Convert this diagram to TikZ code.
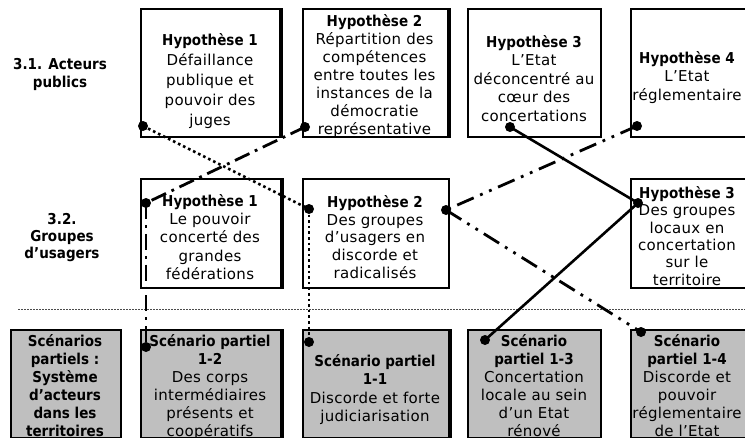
\documentclass[tikz,border=0pt]{standalone}
\usepackage{fontspec}
\setmainfont{DejaVu Sans}[LetterSpace=2, BoldFeatures={FakeStretch=0.9, LetterSpace=0}]
\begin{document}
\begin{tikzpicture}[x=1pt,y=-1pt,
  box/.style={draw, line width=2pt, anchor=north west, inner sep=0pt},
  hyp/.style={box, fill=white},
  scen/.style={box, fill=black!25},
  txt/.style={align=center, anchor=north, inner sep=0pt, font=\fontsize{15}{18.5}\selectfont},
  lbl/.style={align=center, anchor=north, inner sep=0pt, font=\bfseries\fontsize{15}{18}\selectfont},
  dot/.style={circle, fill=black, inner sep=0pt, minimum size=10pt},
  thickedge/.style={line width=3.5pt},
  dottedconn/.style={line width=2.6pt, dash pattern=on 2.6pt off 3pt},
  dashdotconn/.style={line width=2.8pt, dash pattern=on 16pt off 6pt on 2.8pt off 6pt},
  dashdotdotconn/.style={line width=2.8pt, dash pattern=on 18pt off 7pt on 2.8pt off 7pt on 2.8pt off 7pt},
  solidconn/.style={line width=2.6pt},
  sep/.style={line width=0.8pt, black!70, dash pattern=on 1.5pt off 1.5pt}]
\useasboundingbox (0,0) rectangle (745,437);
\clip (0,0) rectangle (745,437);

% row labels
\node[lbl] (r1) at (60,58) {3.1. Acteurs\\publics};
\node[lbl, font=\bfseries\fontsize{15}{17}\selectfont] (r2) at (62,213) {3.2.\\Groupes\\d’usagers};

% separator
\coordinate (sepL) at (18,309);
\coordinate (sepR) at (745,309);
\draw[sep] (sepL) -- (sepR);

% top row boxes
\node[hyp, minimum width=139pt, minimum height=128pt] (H1) at (140,8) {};
\node[hyp, minimum width=145pt, minimum height=128pt] (H2) at (302,8) {};
\node[hyp, minimum width=133pt, minimum height=128pt] (H3) at (467,8) {};
\node[hyp, minimum width=130pt, minimum height=128pt] (H4) at (630,8) {};
% middle row
\node[hyp, minimum width=140pt, minimum height=109pt] (G1) at (140,178) {};
\node[hyp, minimum width=146pt, minimum height=109pt] (G2) at (302,178) {};
\node[hyp, minimum width=130pt, minimum height=109pt] (G3) at (630,178) {};
% bottom row
\node[scen, minimum width=110pt, minimum height=107.5pt] (S0) at (10,329) {};
\node[scen, minimum width=140pt, minimum height=107.5pt] (S12) at (140,329) {};
\node[scen, minimum width=146pt, minimum height=107.5pt] (S11) at (302,329) {};
\node[scen, minimum width=133pt, minimum height=107.5pt] (S13) at (467,329) {};
\node[scen, minimum width=130pt, minimum height=107.5pt] (S14) at (630,329) {};

\draw[thickedge] (H1.north east) -- (H1.south east);
\draw[thickedge] (H2.north east) -- (H2.south east);
\draw[thickedge] (G1.north east) -- (G1.south east);
\draw[thickedge] (S12.north east) -- (S12.south east);
\draw[thickedge] (S11.north east) -- (S11.south east);

% texts
\node[txt, font=\fontsize{15}{20}\selectfont] (tH1) at (210,33) {\textbf{Hypothèse 1}\\Défaillance\\publique et\\pouvoir des\\juges};
\node[txt, font=\fontsize{15}{18}\selectfont] (tH2) at (374.5,14.5) {\textbf{Hypothèse 2}\\Répartition des\\compétences\\entre toutes les\\instances de la\\démocratie\\représentative};
\node[txt] (tH3) at (534,35) {\textbf{Hypothèse 3}\\L’Etat\\déconcentré au\\cœur des\\concertations};
\node[txt] (tH4) at (687,51) {\textbf{Hypothèse 4}\\L’Etat\\réglementaire};
\node[txt, font=\fontsize{15}{18.3}\selectfont] (tG1) at (210,194) {\textbf{Hypothèse 1}\\Le pouvoir\\concerté des\\grandes\\fédérations};
\node[txt, font=\fontsize{15}{17.8}\selectfont] (tG2) at (375,195) {\textbf{Hypothèse 2}\\Des groupes\\d’usagers en\\discorde et\\radicalisés};
\node[txt, font=\fontsize{15}{17.4}\selectfont] (tG3) at (687,186) {\textbf{Hypothèse 3}\\Des groupes\\locaux en\\concertation\\sur le\\territoire};
\node[lbl, font=\bfseries\fontsize{15}{18}\selectfont] (tS0) at (65,334.5) {Scénarios\\partiels :\\Système\\d’acteurs\\dans les\\territoires};
\node[txt, font=\fontsize{15}{18}\selectfont] (tS12) at (210,334.5) {\textbf{Scénario partiel}\\\textbf{1-2}\\Des corps\\intermédiaires\\présents et\\coopératifs};
\node[txt, font=\fontsize{15}{18.5}\selectfont] (tS11) at (375,354) {\textbf{Scénario partiel}\\\textbf{1-1}\\Discorde et forte\\judiciarisation};
\node[txt, font=\fontsize{15}{18}\selectfont] (tS13) at (534,334.5) {\textbf{Scénario}\\\textbf{partiel 1-3}\\Concertation\\locale au sein\\d’un Etat\\rénové};
\node[txt, font=\fontsize{15}{18}\selectfont] (tS14) at (687,334.5) {\textbf{Scénario}\\\textbf{partiel 1-4}\\Discorde et\\pouvoir\\réglementaire\\de l’Etat};

% dots
\node[dot] (dH1) at (143,126) {};
\node[dot] (dH2) at (305,127) {};
\node[dot] (dH3) at (510,127) {};
\node[dot] (dH4) at (637,126) {};
\node[dot] (dG1) at (146,203) {};
\node[dot] (dG2L) at (309,209) {};
\node[dot] (dG2R) at (446,210) {};
\node[dot] (dG3) at (638,203) {};
\node[dot] (dS12) at (146,347) {};
\node[dot] (dS11) at (309,342) {};
\node[dot] (dS13) at (485,340) {};
\node[dot] (dS14) at (641,332) {};

% connectors
\draw[dottedconn] (dH1.center) -- (dG2L.center);
\draw[dottedconn] (dG2L.center) -- (dS11.center);
\draw[dashdotconn] (dH2.center) -- (dG1.center);
\draw[dashdotconn] (dG1.center) -- (dS12.center);
\draw[solidconn] (dH3.center) -- (dG3.center);
\draw[solidconn] (dG3.center) -- (dS13.center);
\draw[dashdotdotconn] (dH4.center) -- (dG2R.center);
\draw[dashdotdotconn] (dG2R.center) -- (dS14.center);
\end{tikzpicture}
\end{document}
